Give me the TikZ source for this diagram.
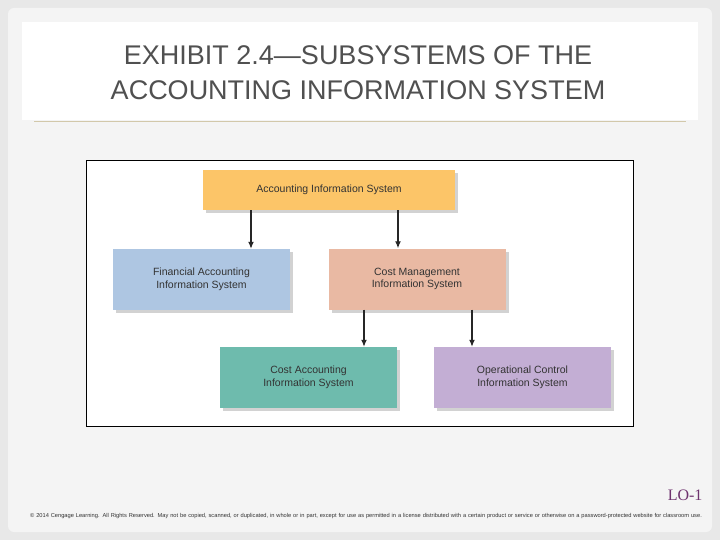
\documentclass[tikz,border=0pt]{standalone}
\usepackage{fontspec}
\setmainfont{Liberation Sans}
\newfontfamily\serifface{Liberation Serif}
\usetikzlibrary{shadows,arrows.meta}
\definecolor{aisorange}{RGB}{252,197,104}
\definecolor{finblue}{RGB}{174,198,226}
\definecolor{costpink}{RGB}{233,185,163}
\definecolor{costteal}{RGB}{110,187,173}
\definecolor{opviolet}{RGB}{195,174,212}
\definecolor{titlegray}{RGB}{80,80,80}
\definecolor{rulebeige}{RGB}{210,200,170}
\definecolor{lopurple}{RGB}{110,50,110}
\tikzset{
  sysbox/.style={minimum width=177pt, minimum height=61pt, align=center,
    font=\fontsize{10.5}{12.5}\selectfont, text=black!80,
    drop shadow={shadow xshift=3pt, shadow yshift=-3pt, opacity=0.35}},
  sysarrow/.style={-{Latex[length=7pt,width=6pt]}, line width=1.3pt, black!85}
}
\begin{document}
\begin{tikzpicture}[x=1pt,y=-1pt]
  \useasboundingbox (0,0) rectangle (720,540);
  \fill[gray!18] (0,0) rectangle (720,540);
  \fill[gray!9, rounded corners=6pt] (8,8) rectangle (712,532);
  \fill[white] (22,22) rectangle (698,120);
  \draw[rulebeige] (34,121) -- (686,121);
  \node[text=titlegray, align=center, font=\fontsize{27}{35}\selectfont] (title) at (358,73)
    {EXHIBIT 2.4---SUBSYSTEMS OF THE\\ACCOUNTING INFORMATION SYSTEM};
  % diagram
  \draw[fill=white, draw=black] (86,160) rectangle (633,426);
  \node[sysbox, fill=aisorange, minimum width=252pt, minimum height=40pt] (ais) at (329,190) {Accounting Information System};
  \node[sysbox, fill=finblue] (fin) at (201.5,279.5) {Financial Accounting\\Information System};
  \node[sysbox, fill=costpink] (cms) at (417,279) {Cost Management\\Information System};
  \node[sysbox, fill=costteal] (cas) at (308.5,377.5) {Cost Accounting\\Information System};
  \node[sysbox, fill=opviolet] (ocs) at (522.5,377.5) {Operational Control\\Information System};
  \draw[sysarrow] (251,0 |- ais.south) -- (251,0 |- fin.north);
  \draw[sysarrow] (398,0 |- ais.south) -- (398,0 |- cms.north);
  \draw[sysarrow] (364,0 |- cms.south) -- (364,0 |- cas.north);
  \draw[sysarrow] (472,0 |- cms.south) -- (472,0 |- ocs.north);
  % footer
  \node[text=lopurple, font=\serifface\fontsize{16}{18}\selectfont, anchor=east] (lo) at (706,495) {LO-1};
  \node[anchor=north west, align=left, text width=680pt, text=black!80, inner sep=0pt,
    font=\fontsize{5.7}{11}\selectfont] (copy) at (30,513)
    {\textcopyright{} 2014 Cengage Learning. All Rights Reserved. May not be copied, scanned, or duplicated, in whole or in part, except for use as permitted in a license distributed with a certain product or service or otherwise on a password-protected website for classroom use.};
\end{tikzpicture}
\end{document}
